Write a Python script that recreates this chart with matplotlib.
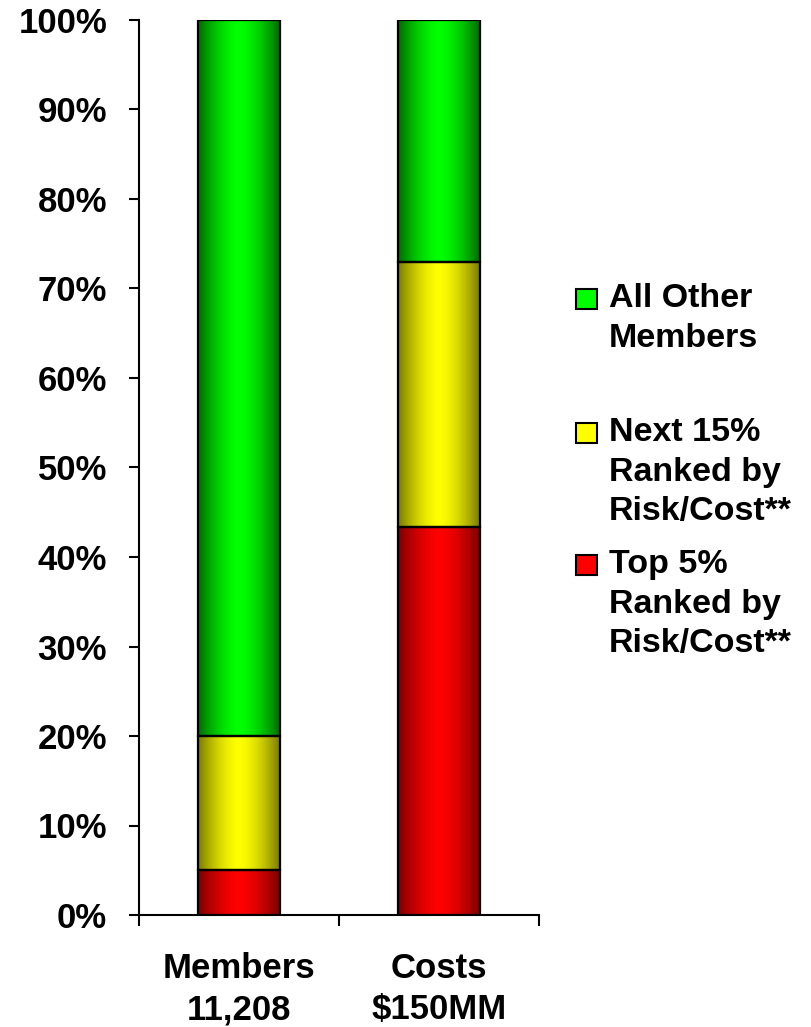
import numpy as np
import matplotlib.pyplot as plt
from matplotlib.colors import LinearSegmentedColormap
from matplotlib.patches import Rectangle

plt.rcParams['font.family'] = ['Liberation Sans', 'DejaVu Sans']
plt.rcParams['font.weight'] = 'bold'

# Data
categories = ['Members\n11,208', 'Costs\n$150MM']
top5 = [5.0, 43.3]
next15 = [15.0, 29.7]
others = [80.0, 27.0]
series_names = ['All Other\nMembers', 'Next 15%\nRanked by\nRisk/Cost**', 'Top 5%\nRanked by\nRisk/Cost**']

# (dark edge, bright centre) for each series
shades = {'top': ('#7a0000', '#ff0000'),
          'next': ('#7a7a00', '#ffff00'),
          'other': ('#006a00', '#00ff00')}

W, H = 811, 1027
fig = plt.figure(figsize=(W / 100, H / 100), dpi=100)
ax = fig.add_axes([139 / W, (H - 915) / H, 400 / W, 895 / H])

x = np.arange(len(categories))
width = 0.41


def gradient_bars(bottoms, heights, key):
    dark, bright = shades[key]
    cmap = LinearSegmentedColormap.from_list(key, [dark, bright, dark])
    t = np.linspace(0, 1, 200)
    # flatten centre a bit so it reads like the Excel shading
    t = 0.5 + 0.5 * np.sign(t - 0.5) * np.abs(2 * (t - 0.5)) ** 1.6
    grad = t.reshape(1, -1)
    bars = ax.bar(x, heights, width, bottom=bottoms, color='none',
                  edgecolor='black', linewidth=1.6, zorder=3)
    for b in bars:
        x0, y0 = b.get_x(), b.get_y()
        im = ax.imshow(grad, cmap=cmap, aspect='auto', zorder=2,
                       extent=[x0, x0 + b.get_width(), y0, y0 + b.get_height()])
        im.set_clip_path(b)
    return bars


gradient_bars([0, 0], top5, 'top')
gradient_bars(top5, next15, 'next')
gradient_bars(np.add(top5, next15), others, 'other')

ax.set_xlim(-0.5, 1.5)
ax.set_ylim(0, 100)
ax.set_yticks(np.arange(0, 101, 10))
ax.set_yticklabels([f'{v}%' for v in range(0, 101, 10)])
ax.set_xticks(x)
ax.set_xticklabels(categories, linespacing=1.3)
ax.set_xticks([-0.5, 0.5, 1.5], minor=True)
ax.tick_params(axis='x', which='major', length=0, pad=27, labelsize=25)
ax.tick_params(axis='x', which='minor', length=8, width=1.5, direction='out')
ax.tick_params(axis='y', length=7, width=1.5, direction='out', pad=16, labelsize=25)
for s in ['top', 'right']:
    ax.spines[s].set_visible(False)
for s in ['left', 'bottom']:
    ax.spines[s].set_linewidth(1.5)

# Legend drawn by hand to match the uneven spacing of the original
legend_rows = [(series_names[0], 'other', 299), (series_names[1], 'next', 433),
               (series_names[2], 'top', 565)]
for label, key, ypx in legend_rows:
    dark, bright = shades[key]
    fig.patches.append(Rectangle((576 / W, 1 - (ypx + 10) / H), 21 / W, 20 / H,
                                 transform=fig.transFigure, facecolor=bright,
                                 edgecolor='black', linewidth=1.5))
    fig.text(609 / W, 1 - (ypx - 16) / H, label, fontsize=24.5, fontweight='bold',
             va='top', ha='left', linespacing=1.36)

fig.savefig('out.png', dpi=100)
